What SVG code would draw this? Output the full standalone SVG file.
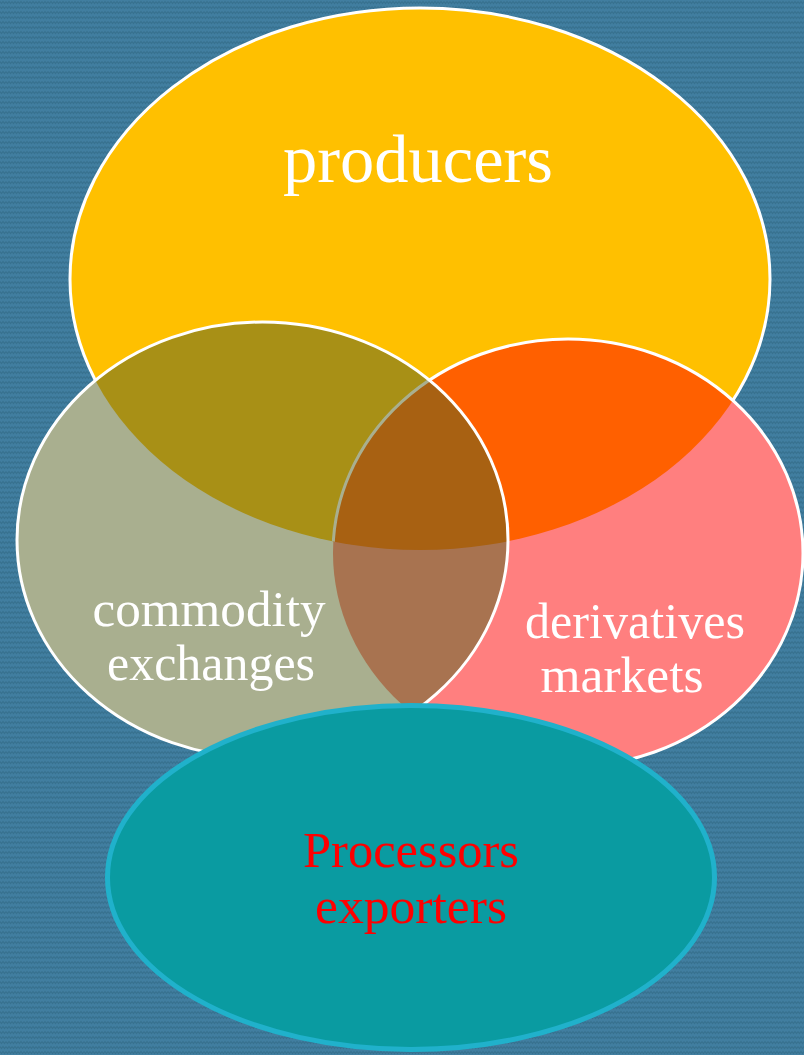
<svg xmlns="http://www.w3.org/2000/svg" width="804" height="1055" viewBox="0 0 804 1055">
  <style>
    .lbl { font-family: "Liberation Serif", "Times New Roman", serif; text-anchor: middle; }
    .white { fill: #FFFFFF; }
    .outline { fill: none; stroke: #FFFFFF; stroke-width: 3; }
  </style>
  <defs>
    <pattern id="knit" width="6" height="5" patternUnits="userSpaceOnUse">
      <rect width="6" height="5" fill="#417EA0"/>
      <polyline points="0,1.5 1.5,3.5 3,1.5 4.5,3.5 6,1.5" fill="none" stroke="#37718F" stroke-width="1.2"/>
    </pattern>
    <ellipse id="eP" cx="420" cy="279" rx="350" ry="271"/>
    <ellipse id="eC" cx="262.5" cy="540" rx="245.5" ry="218"/>
    <ellipse id="eD" cx="568" cy="553" rx="235" ry="214"/>
    <clipPath id="clipP"><use href="#eP"/></clipPath>
    <clipPath id="clipC"><use href="#eC"/></clipPath>
    <clipPath id="clipD"><use href="#eD"/></clipPath>
  </defs>

  <rect id="background" x="0" y="0" width="804" height="1055" fill="url(#knit)"/>

  <g id="producers">
    <use href="#eP" fill="#FFC000"/>
    <use href="#eP" class="outline"/>
  </g>

  <g id="derivatives">
    <use href="#eD" fill="#FF7F7F"/>
    <g clip-path="url(#clipP)"><use href="#eD" fill="#FF6000"/></g>
    <use href="#eD" class="outline"/>
  </g>

  <g id="commodity">
    <use href="#eC" fill="#A9AF8F"/>
    <g clip-path="url(#clipP)"><use href="#eC" fill="#A89016"/></g>
    <g clip-path="url(#clipD)"><use href="#eC" fill="#A87350"/></g>
    <g clip-path="url(#clipD)"><g clip-path="url(#clipP)"><use href="#eC" fill="#A86112"/></g></g>
    <g clip-path="url(#clipC)"><g clip-path="url(#clipP)"><use href="#eD" fill="none" stroke="#A9AF8F" stroke-width="3"/></g></g>
    <use href="#eC" class="outline"/>
  </g>

  <g id="labels-top">
    <text class="lbl white" x="418" y="182" font-size="68" textLength="270" lengthAdjust="spacingAndGlyphs">producers</text>
    <text class="lbl white" x="209" y="626" font-size="50" textLength="233" lengthAdjust="spacingAndGlyphs">commodity</text>
    <text class="lbl white" x="211" y="680" font-size="50" textLength="208" lengthAdjust="spacingAndGlyphs">exchanges</text>
    <text class="lbl white" x="635" y="638" font-size="50" textLength="220" lengthAdjust="spacingAndGlyphs">derivatives</text>
    <text class="lbl white" x="622" y="692" font-size="50" textLength="163" lengthAdjust="spacingAndGlyphs">markets</text>
  </g>

  <g id="processors">
    <ellipse cx="411" cy="877.5" rx="303.5" ry="172" fill="#0A9BA1" stroke="#20B1CB" stroke-width="5"/>
    <text class="lbl" x="411" y="867" font-size="50" fill="#FF0000" textLength="216" lengthAdjust="spacingAndGlyphs">Processors</text>
    <text class="lbl" x="411" y="923" font-size="50" fill="#FF0000" textLength="192" lengthAdjust="spacingAndGlyphs">exporters</text>
  </g>

  <g id="connectors"/>
</svg>
